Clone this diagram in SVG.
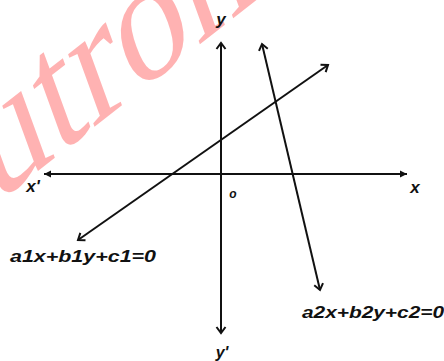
<svg xmlns="http://www.w3.org/2000/svg" width="444" height="361" viewBox="0 0 444 361">
<style>
.wm{font-family:"Liberation Serif",serif;font-size:160px;fill:#ff0000;fill-opacity:0.3}
.ax{stroke:#111;stroke-width:2;fill:none}
.ln{stroke:#111;stroke-width:2;fill:none}
.lb{font-family:"Liberation Sans",Arial,sans-serif;font-weight:bold;font-style:italic;fill:#111}
</style>
<defs>
<marker id="v" markerUnits="userSpaceOnUse" markerWidth="14" markerHeight="14" refX="0" refY="0" viewBox="-8 -7 10 14" orient="auto-start-reverse">
<path d="M-6,-4.5 L0,0 L-6,4.5" stroke="#111" stroke-width="2" fill="none"/>
</marker>
<marker id="f" markerUnits="userSpaceOnUse" markerWidth="14" markerHeight="14" refX="0" refY="0" viewBox="-8 -7 10 14" orient="auto-start-reverse">
<path d="M-7,-3.5 L0,0 L-7,3.5 Z" fill="#111"/>
</marker>
</defs>
<rect width="444" height="361" fill="#fff"/>
<text class="wm" transform="translate(-62,249) rotate(-38) skewX(-18)">eutron</text>
<g id="connectors">
<line id="x-axis" class="ax" x1="44" y1="174" x2="407" y2="174" marker-start="url(#f)" marker-end="url(#f)"/>
<line id="y-axis" class="ax" x1="221" y1="333" x2="221" y2="43" marker-start="url(#v)" marker-end="url(#v)"/>
<line id="line1" class="ln" x1="328" y1="65" x2="78" y2="240" marker-start="url(#v)" marker-end="url(#v)"/>
<line id="line2" class="ln" x1="320" y1="290" x2="262" y2="44" marker-start="url(#v)" marker-end="url(#v)"/>
</g>
<g id="label-y"><text class="lb" x="221" y="25" font-size="17" text-anchor="middle">y</text></g>
<g id="label-y-prime"><text class="lb" x="222" y="358" font-size="16" text-anchor="middle">y'</text></g>
<g id="label-x"><text class="lb" x="415" y="193" font-size="17" text-anchor="middle">x</text></g>
<g id="label-x-prime"><text class="lb" x="33" y="192" font-size="17" text-anchor="middle">x'</text></g>
<g id="label-o"><text class="lb" x="233" y="198" font-size="12" text-anchor="middle">o</text></g>
<g id="label-eq1"><text class="lb" x="10" y="262" font-size="16" textLength="146" lengthAdjust="spacingAndGlyphs">a1x+b1y+c1=0</text></g>
<g id="label-eq2"><text class="lb" x="302" y="318" font-size="16" textLength="142" lengthAdjust="spacingAndGlyphs">a2x+b2y+c2=0</text></g>
</svg>
